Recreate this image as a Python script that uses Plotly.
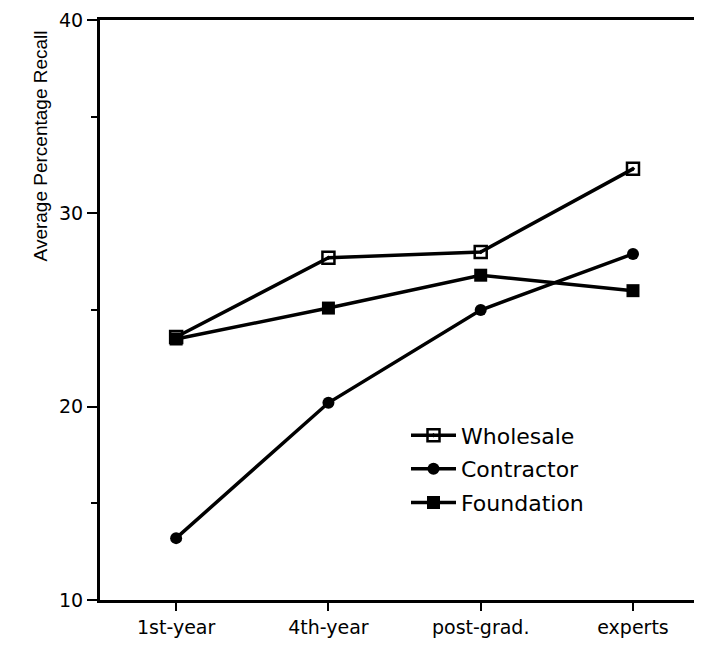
import plotly.graph_objects as go

categories = ["1st-year", "4th-year", "post-grad.", "experts"]
wholesale = [23.6, 27.7, 28.0, 32.3]
contractor = [13.2, 20.2, 25.0, 27.9]
foundation = [23.5, 25.1, 26.8, 26.0]

fig = go.Figure()
fig.add_trace(go.Scatter(x=categories, y=wholesale, name="Wholesale", mode="lines+markers",
                         legendgroup="w",
                         line=dict(color="black", width=3.5),
                         marker=dict(symbol="square-open-dot", size=12, color="black", line=dict(width=2.5, color="black"))))
fig.add_trace(go.Scatter(x=categories, y=contractor, name="Contractor", mode="lines+markers",
                         legendgroup="c",
                         line=dict(color="black", width=3.5),
                         marker=dict(symbol="circle", size=12, color="black")))
fig.add_trace(go.Scatter(x=categories, y=foundation, name="Foundation", mode="lines+markers",
                         legendgroup="f",
                         line=dict(color="black", width=3.5),
                         marker=dict(symbol="square", size=13, color="black")))

font = "DejaVu Sans, Liberation Sans, Arial, sans-serif"
fig.update_layout(
    width=694, height=637,
    margin=dict(l=92, r=2, t=12, b=45),
    paper_bgcolor="white", plot_bgcolor="white",
    font=dict(family=font, color="black"),
    legend=dict(x=0.51, y=0.32, xanchor="left", yanchor="top",
                font=dict(size=22), bgcolor="rgba(0,0,0,0)",
                itemwidth=45, tracegroupgap=2),
    showlegend=True,
)
fig.add_annotation(text="Average Percentage Recall", xref="paper", yref="paper",
                   x=-0.1, y=0.782, xanchor="center", yanchor="middle",
                   textangle=-90, showarrow=False,
                   font=dict(family="Liberation Sans, Arial, sans-serif", size=19))
fig.update_xaxes(range=[-0.5, 3.44], showline=True, linecolor="black", linewidth=2.5, mirror=True,
                 ticks="outside", ticklen=8, tickwidth=2, tickcolor="black", automargin=False,
                 showgrid=False, zeroline=False, tickfont=dict(size=19))
fig.update_yaxes(range=[10, 40], showline=True, linecolor="black", linewidth=3, mirror=False,
                 ticks="outside", ticklen=10, tickwidth=2, tickcolor="black", dtick=10,
                 ticklabeloverflow="allow", automargin=False,
                 minor=dict(dtick=5, ticks="outside", ticklen=6, tickwidth=2, tickcolor="black"),
                 showgrid=False, zeroline=False, tickfont=dict(size=19))

fig.write_html("out.html")
